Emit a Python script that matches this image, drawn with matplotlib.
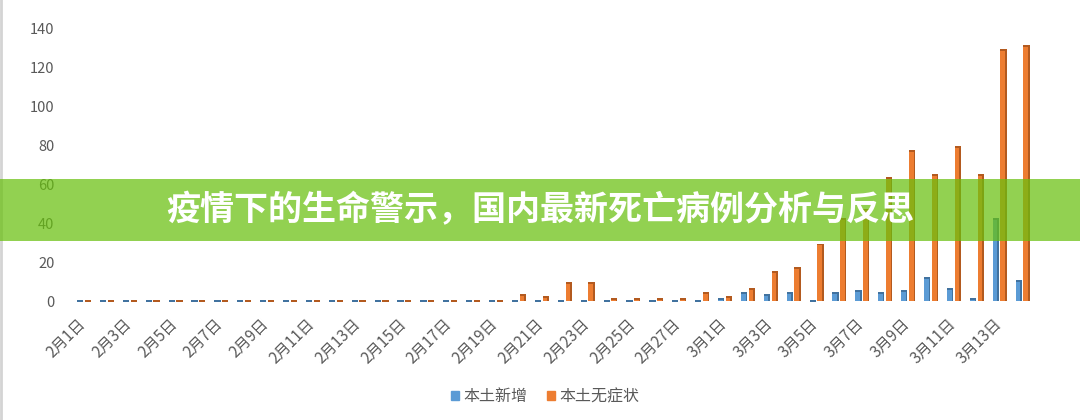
import numpy as np
import matplotlib.pyplot as plt
import matplotlib.transforms as mtransforms
from matplotlib.patches import Rectangle
from matplotlib.lines import Line2D

plt.rcParams['font.family'] = ['Noto Sans CJK SC', 'DejaVu Sans']

# 2月1日 .. 3月14日
days = [f"2月{d}日" for d in range(1, 29)] + [f"3月{d}日" for d in range(1, 15)]

# 本土新增
local_new = [0] * 28 + [1, 4, 3, 4, 0, 4, 5, 4, 5, 12, 6, 1, 42, 10]
# 本土无症状
local_asym = ([0] * 19 + [3, 2, 9, 9, 1, 1, 1, 1, 4]
              + [2, 6, 15, 17, 29, 42, 47, 63, 77, 65, 79, 65, 129, 131])

series_names = ["本土新增", "本土无症状"]
colors = ["#5b9bd5", "#ed7d31"]
dark_colors = ["#41729f", "#b35a1f"]

title_text = "疫情下的生命警示，国内最新死亡病例分析与反思"

fig = plt.figure(figsize=(10.8, 4.2), dpi=100)
ax = fig.add_axes([0.0608, 0.2786, 0.903, 0.6524])

x = np.arange(len(days))
w = 0.27
offsets = [-0.17, 0.17]

for vals, off, c, dc, name in zip([local_new, local_asym], offsets, colors,
                                  dark_colors, series_names):
    vals = np.asarray(vals, dtype=float)
    # front face
    ax.bar(x + off, vals, width=w, color=c, linewidth=0, zorder=2, label=name)
    # darker side strip, a poor man's 3D look
    ax.bar(x + off + w * 0.38, vals, width=w * 0.24, color=dc, linewidth=0, zorder=3)
    # top cap (also gives the flat dash for zero values)
    ax.bar(x + off, 1.0, bottom=vals - 0.4, width=w, color=dc, linewidth=0, zorder=3)

ax.set_xlim(-0.8, len(days) - 0.2)
ax.set_ylim(-1, 140)
ax.set_yticks(np.arange(0, 141, 20))
ax.tick_params(axis='y', length=0, labelsize=10.5, labelcolor='#595959', pad=8)

ax.set_xticks(x[::2])
ax.set_xticklabels(days[::2], rotation=45, ha='right', va='top',
                   rotation_mode='anchor', fontsize=11, color='#595959')
ax.tick_params(axis='x', length=0, pad=9)
# nudge the rotated labels a little to the left
shift = mtransforms.ScaledTranslation(-5 / 72, 0, fig.dpi_scale_trans)
for lbl in ax.get_xticklabels():
    lbl.set_transform(lbl.get_transform() + shift)

for s in ax.spines.values():
    s.set_visible(False)

handles = [Rectangle((0, 0), 1, 1, color=c) for c in colors]
fig.legend(handles, series_names, loc='center', bbox_to_anchor=(0.505, 0.055),
           ncol=2, frameon=False, fontsize=11.5, labelcolor='#595959',
           handlelength=0.5, handleheight=0.5, handletextpad=0.3, columnspacing=1.2)

# light border at the left edge
fig.add_artist(Line2D([0.0012, 0.0012], [0, 1], transform=fig.transFigure,
                      color='#d4d4d4', lw=2))

# green title banner across the chart
fig.add_artist(Rectangle((0, 0.426), 1, 0.1476, transform=fig.transFigure,
                         facecolor=(104 / 255, 192 / 255, 14 / 255), alpha=0.72,
                         edgecolor='none', zorder=5))
fig.text(0.5, 0.5, title_text, ha='center', va='center', color='white',
         fontsize=24.5, fontweight='bold', zorder=6)

fig.savefig("out.png", dpi=100)
